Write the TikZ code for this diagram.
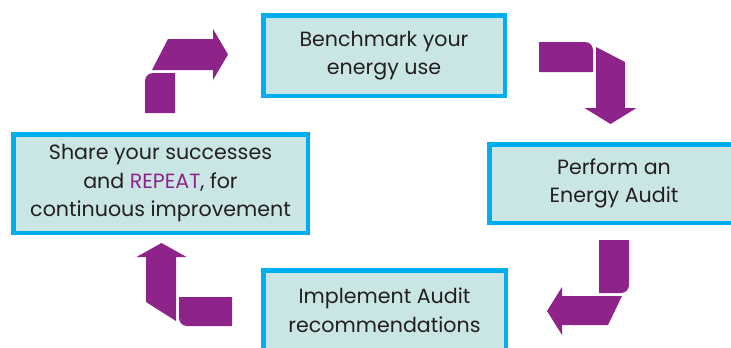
\documentclass[tikz,border=0pt]{standalone}
\usepackage{fontspec}
\setmainfont{Poppins}
\definecolor{boxblue}{HTML}{00AEEF}
\definecolor{boxfill}{HTML}{C9E6E4}
\definecolor{arrowpurple}{HTML}{8E2489}
\definecolor{txt}{HTML}{231F20}
\begin{document}
\begin{tikzpicture}[x=1pt,y=-1pt,
  stagebox/.style={draw=boxblue,fill=boxfill,line width=4.5pt,align=center,
    text=txt,inner sep=0pt,font=\fontsize{20.6}{28.5}\selectfont},
  purplearrow/.style={fill=arrowpurple}]
\useasboundingbox (0,0) rectangle (731,348);
\clip (0,0) rectangle (731,348);
% boxes
\node[stagebox,minimum width=241.5pt,minimum height=80.5pt] (bench) at (384,55.5)
  {Benchmark your\\energy use};
\node[stagebox,minimum width=249.5pt,minimum height=78.5pt] (audit) at (614,183.5)
  {Perform an\\Energy Audit};
\node[stagebox,minimum width=242.5pt,minimum height=80.5pt] (impl) at (384.5,310.5)
  {Implement Audit\\recommendations};
\node[stagebox,minimum width=294.5pt,minimum height=98.5pt] (share) at (160.5,183.5)
  {Share your successes\\and {\color{arrowpurple}REPEAT}, for\\continuous improvement};
% arrow 1: share -> bench
\fill[purplearrow] (145,113) -- (145,81) .. controls (145,76.6) and (148.6,73) .. (153,73)
  -- (175,73) -- (175,113) -- cycle;
\fill[purplearrow] (152,70) -- (168,39) -- (213,39) -- (213,29) -- (228,54.5)
  -- (213,80) -- (213,70) -- cycle;
% arrow 2: bench -> audit
\fill[purplearrow] (539,42) -- (585,42) .. controls (589.4,42) and (593,45.6) .. (593,50)
  -- (593,72) -- (539,72) -- cycle;
\fill[purplearrow] (596,47) -- (625,62) -- (625,108) -- (636.5,108) -- (610.5,124)
  -- (584.5,108) -- (596,108) -- cycle;
% arrow 3: audit -> impl
\fill[purplearrow] (599,240) -- (629,240) -- (629,285) .. controls (629,289.4) and (625.4,293) .. (621,293)
  -- (599,293) -- cycle;
\fill[purplearrow] (622,296) -- (562,296) -- (562,287) -- (547,311) -- (562,335)
  -- (562,325) -- (608,325) -- cycle;
% arrow 4: impl -> share
\fill[purplearrow] (232,297) -- (179,297) -- (179,318) .. controls (179,322.4) and (182.6,326) .. (187,326)
  -- (232,326) -- cycle;
\fill[purplearrow] (176,321) -- (176,257) -- (186.5,257) -- (161.5,243) -- (136.5,257)
  -- (146,257) -- (146,302) -- cycle;
\end{tikzpicture}
\end{document}
